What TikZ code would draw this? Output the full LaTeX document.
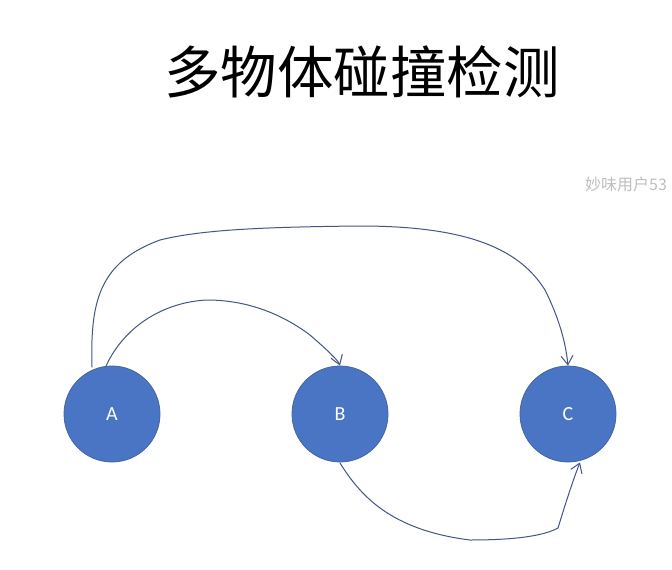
\documentclass[tikz,border=0pt]{standalone}
\usepackage{fontspec}
\setmainfont{Carlito}
\newfontfamily\cjk{Noto Sans CJK SC}
\usetikzlibrary{arrows.meta}
\definecolor{nodefill}{HTML}{4A74C4}
\definecolor{nodeline}{HTML}{41679F}
\definecolor{inkline}{HTML}{435488}
\tikzset{
  x=1pt,y=-1pt,
  ball/.style={circle,minimum size=96pt,inner sep=0pt,fill=nodefill,draw=nodeline,line width=0.8pt,text=white,font=\fontsize{20}{20}\selectfont},
  ink/.style={draw=inkline,line width=1pt,line cap=round,line join=round},
  inktip/.style={ink,-{Straight Barb[length=9pt,width=12pt,line width=1pt]}}
}
\begin{document}
\begin{tikzpicture}
\useasboundingbox (0,0) rectangle (672,570);
\clip (0,0) rectangle (672,570);
\fill[white] (0,0) rectangle (672,570);
\node (title) at (362,72) {\cjk\fontsize{56.5}{56.5}\selectfont 多物体碰撞检测};
\node[anchor=west,inner sep=0pt,text=black!25] (mark) at (585,184) {\cjk\fontsize{16}{16}\selectfont 妙味用户53};
\node[ball] (A) at (112,414) {A};
\node[ball] (B) at (340,414) {B};
\node[ball] (C) at (568,414) {C};
\coordinate (a1) at (92,367);
\coordinate (a2) at (106,366);
\coordinate (b1) at (340,463);
% A to C
\draw[inktip] (a1) .. controls (90,300) and (100,262) .. (160,240)
  .. controls (200,230) and (260,227) .. (360,226)
  .. controls (470,226) and (520,250) .. (545,290)
  .. controls (560,320) and (566,345) .. (C.north);
% A to B
\draw[inktip] (a2) .. controls (125,325) and (165,302) .. (207,300)
  .. controls (255,300) and (290,320) .. (310,335)
  .. controls (325,348) and (338,360) .. (B.north);
% B to C
\draw[inktip] (b1) .. controls (360,495) and (390,530) .. (470,540)
  .. controls (520,540) and (545,535) .. (558,528)
  .. controls (565,505) and (573,480) .. ([xshift=12pt]C.south);
\end{tikzpicture}
\end{document}
